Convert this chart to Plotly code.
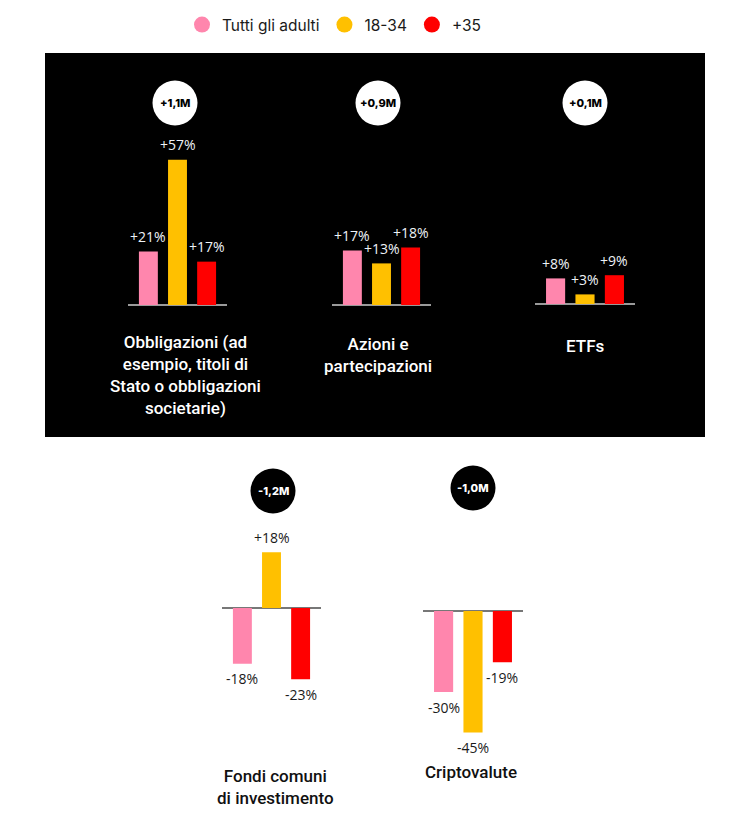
import plotly.graph_objects as go

W, H = 752, 815
# the page puts the figure 8px in from the top-left corner
OX, OY = 8, 8

# data
groups = ["Tutti gli adulti", "18-34", "+35"]
group_colors = ["#ff86ad", "#ffc000", "#ff0000"]
categories = [
    "Obbligazioni (ad<br>esempio, titoli di<br>Stato o obbligazioni<br>societarie)",
    "Azioni e<br>partecipazioni",
    "ETFs",
    "Fondi comuni<br>di investimento",
    "Criptovalute",
]
tutti_adulti = [21, 17, 8, -18, -30]
eta_18_34 = [57, 13, 3, 18, -45]
eta_35_plus = [17, 18, 9, -23, -19]
totali = ["+1,1M", "+0,9M", "+0,1M", "-1,2M", "-1,0M"]


def px(x):
    return (x - OX) / W


def py(y):
    return 1 - (y - OY) / H


# panel placement in screen pixels: bar area x0-x1, zero line, px per %, badge centre, title
panels = [
    dict(x0=128, x1=227, zero=305, k=2.55, top=120, bot=312, dark=True, bx=175, by=103, tx=185, ty=330),
    dict(x0=332, x1=431, zero=305, k=3.2, top=120, bot=312, dark=True, bx=378, by=103, tx=378, ty=332),
    dict(x0=535, x1=635, zero=304, k=3.2, top=120, bot=312, dark=True, bx=585, by=103, tx=585, ty=334),
    dict(x0=222, x1=321, zero=608, k=3.1, top=520, bot=745, dark=False, bx=273, by=491, tx=275, ty=764),
    dict(x0=423, x1=523, zero=611, k=2.7, top=520, bot=745, dark=False, bx=473, by=488, tx=471, ty=760),
]

fig = go.Figure()
shapes = [
    dict(type="rect", xref="paper", yref="paper", x0=px(45), x1=px(705), y0=py(437), y1=py(53),
         fillcolor="black", line_width=0, layer="below")
]
annotations = []

for i, p in enumerate(panels):
    n = "" if i == 0 else str(i + 1)
    vals = [tutti_adulti[i], eta_18_34[i], eta_35_plus[i]]
    fg = "#eef2f7" if p["dark"] else "#1a1a1a"
    fig.add_trace(go.Bar(
        x=groups, y=vals, width=0.65,
        marker=dict(color=group_colors, line_width=0),
        showlegend=False, hoverinfo="skip",
        xaxis="x" + n, yaxis="y" + n,
    ))
    # value labels, a little away from the bar end (x by category index)
    for j, v in enumerate(vals):
        annotations.append(dict(
            x=j, y=v, xref="x" + n, yref="y" + n, text=f"{v:+d}%",
            showarrow=False, xanchor="center", yanchor="middle",
            yshift=15 if v >= 0 else -15,
            font=dict(family="Open Sans", size=14, color=fg),
        ))
    fig.layout["xaxis" + n] = dict(
        type="category", domain=[px(p["x0"]), px(p["x1"])], range=[-0.7, 2.7],
        showticklabels=False, showgrid=False, zeroline=False, showline=False,
        anchor="y" + n, fixedrange=True,
    )
    fig.layout["yaxis" + n] = dict(
        domain=[py(p["bot"]), py(p["top"])],
        range=[-(p["bot"] - p["zero"]) / p["k"], (p["zero"] - p["top"]) / p["k"]],
        showticklabels=False, showgrid=False, showline=False,
        zeroline=True, zerolinecolor="#9a9a9a" if p["dark"] else "#777777", zerolinewidth=2,
        anchor="x" + n, fixedrange=True,
    )
    r = 22.5
    shapes.append(dict(
        type="circle", xref="paper", yref="paper",
        x0=px(p["bx"] - r), x1=px(p["bx"] + r), y0=py(p["by"] + r), y1=py(p["by"] - r),
        fillcolor="white" if p["dark"] else "black", line_width=0,
    ))
    annotations.append(dict(
        x=px(p["bx"]), y=py(p["by"]), xref="paper", yref="paper", text=totali[i],
        showarrow=False, xanchor="center", yanchor="middle",
        font=dict(family="Inter", size=11, weight=800, color="black" if p["dark"] else "white"),
    ))
    annotations.append(dict(
        x=px(p["tx"]), y=py(p["ty"]), xref="paper", yref="paper", text=categories[i],
        showarrow=False, xanchor="center", yanchor="top", align="center",
        font=dict(family="Roboto", size=17, weight=500, color="white" if p["dark"] else "#111111"),
    ))

for g, c in zip(groups, group_colors):
    fig.add_trace(go.Scatter(
        x=[None], y=[None], mode="markers", name=g,
        marker=dict(symbol="circle", size=18, color=c),
        hoverinfo="skip",
    ))

fig.update_layout(
    width=W, height=H,
    margin=dict(l=0, r=0, t=0, b=0),
    paper_bgcolor="white", plot_bgcolor="rgba(0,0,0,0)",
    shapes=shapes, annotations=annotations,
    showlegend=True,
    legend=dict(
        orientation="h", x=px(182), y=1, xanchor="left", yanchor="top",
        font=dict(family="Inter", size=15.5, color="#1a1a1a"),
        bgcolor="rgba(0,0,0,0)", itemclick=False, itemdoubleclick=False,
    ),
)

fig.write_html("out.html")
